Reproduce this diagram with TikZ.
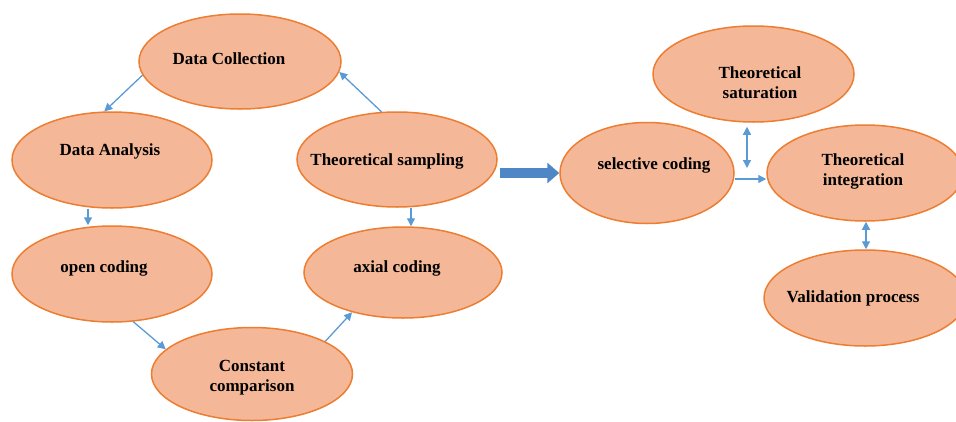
\documentclass[tikz,border=0pt]{standalone}
\usepackage{fontspec}
\setmainfont{Liberation Serif}
\usetikzlibrary{shapes.geometric,arrows.meta}
\definecolor{blobfill}{HTML}{F4B898}
\definecolor{blobedge}{HTML}{ED7D31}
\definecolor{linkblue}{HTML}{5B9BD5}
\definecolor{bigblue}{HTML}{4F86C6}

\begin{document}
\begin{tikzpicture}[x=1pt,y=-1pt,
  blob/.style={ellipse, draw=blobedge, fill=blobfill, line width=1.5pt,
    inner sep=0pt, minimum width=200pt, minimum height=96pt},
  lbl/.style={font=\fontsize{17}{20}\selectfont\bfseries, align=center, inner sep=0pt},
  link/.style={draw=linkblue, line width=1.3pt, -{Triangle[length=8pt,width=8pt]}},
  dbl/.style={draw=linkblue, line width=1.3pt,
    {Triangle[length=8pt,width=8pt]}-{Triangle[length=8pt,width=8pt]}},
  ]
\useasboundingbox (0,0) rectangle (956,421);
\clip (0,0) rectangle (956,421);

% ellipses of the coding cycle
\node[blob, minimum width=202pt, minimum height=95pt] (dc) at (240,61.5) {};
\node[blob] (da) at (112,160) {};
\node[blob, minimum height=95pt] (ts) at (397,159.5) {};
\node[blob] (oc) at (112,274) {};
\node[blob, minimum width=198pt, minimum height=91pt] (ac) at (403,272.5) {};
\node[blob, minimum width=201pt, minimum height=93pt] (cc) at (252,374) {};

% ellipses of the integration stage
\node[blob, minimum width=174pt, minimum height=101pt] (sc) at (647,173) {};
\node[blob, minimum width=201pt] (sat) at (753.5,74) {};
\node[blob, minimum width=196pt] (ti) at (865,173) {};
\node[blob, minimum width=202pt] (vp) at (865,298) {};

% labels
\node[lbl] (t-dc) at (229,59) {Data Collection};
\node[lbl] (t-da) at (110,151) {Data Analysis};
\node[lbl] (t-ts) at (387,161) {Theoretical sampling};
\node[lbl] (t-oc) at (104,268) {open coding};
\node[lbl] (t-ac) at (397,268) {axial coding};
\node[lbl] (t-cc) at (252,378) {Constant\\comparison};
\node[lbl] (t-sc) at (654,165) {selective coding};
\node[lbl] (t-sat) at (760,83) {Theoretical\\saturation};
\node[lbl] (t-ti) at (863,171) {Theoretical\\integration};
\node[lbl] (t-vp) at (853,298) {Validation process};

% cycle connectors
\draw[link] (dc.188) -- (da.99.5);
\draw[link] (ts.108.6) -- (dc.-6.6);
\draw[link] ([xshift=-24pt]da.south) -- ([xshift=-24pt]oc.north);
\draw[link] ([xshift=14pt]ts.south) -- ([xshift=14pt]ts.south |- ac.north);
\draw[link] (oc.294) -- (cc.164.4);
\draw[link] (cc.24.6) -- (ac.218.9);

% transition to selective coding
\draw[bigblue, line width=10pt, -{Triangle[length=12pt,width=20pt]}]
  ([xshift=2pt]ts.east |- sc.west) -- (sc.west);

% integration stage connectors
\coordinate (junc) at (747,168);
\draw[link] ([yshift=-6pt]sc.east) -- ([yshift=-6pt]sc.east -| ti.west);
\draw[dbl] ([shift={(-6.5,4)}]sat.south) -- (junc);
\draw[dbl] ([xshift=1pt]ti.south) -- ([xshift=1pt]ti.south |- vp.north);
\end{tikzpicture}
\end{document}
